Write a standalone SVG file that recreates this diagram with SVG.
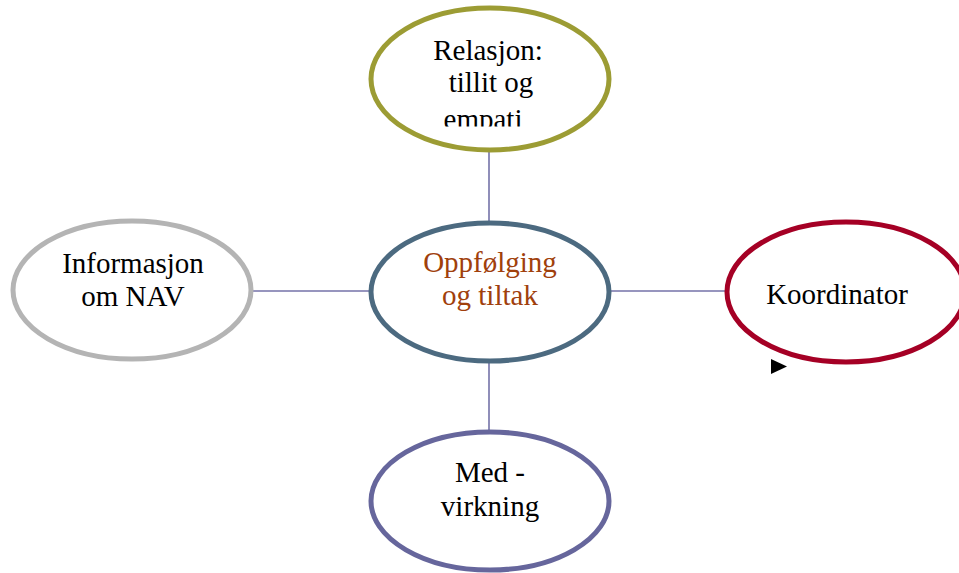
<svg xmlns="http://www.w3.org/2000/svg" width="959" height="573" viewBox="0 0 959 573">
<style>
.n{fill:#fff;stroke-width:5}
.t{font-family:"Liberation Serif","Times New Roman",serif;font-size:29px;fill:#000;text-anchor:middle}
.r{fill:#a0400c}
.c{stroke:#7472a8;stroke-width:1.6;fill:none}
</style>
<defs>
<clipPath id="topclip"><rect x="360" y="0" width="260" height="126.5"/></clipPath>
</defs>
<rect width="959" height="573" fill="#fff"/>
<g id="connectors">
<line class="c" x1="489" y1="152" x2="489" y2="222"/>
<line class="c" x1="489" y1="362" x2="489" y2="432"/>
<line class="c" x1="252" y1="291" x2="370" y2="291"/>
<line class="c" x1="610" y1="291" x2="726" y2="291"/>
</g>
<g id="relasjon">
<ellipse class="n" cx="490" cy="79" rx="119" ry="71" stroke="#9c9c34"/>
<g clip-path="url(#topclip)">
<text class="t" x="488" y="60">Relasjon:</text>
<text class="t" x="491" y="92">tillit og</text>
<text class="t" x="483" y="129">empati</text>
</g>
</g>
<g id="oppfolging">
<ellipse class="n" cx="490" cy="292" rx="119" ry="69" stroke="#4c6a80"/>
<text class="t r" x="490" y="272">Oppfølging</text>
<text class="t r" x="490" y="305">og tiltak</text>
</g>
<g id="informasjon">
<ellipse class="n" cx="132" cy="290" rx="119" ry="69" stroke="#b4b4b4"/>
<text class="t" x="133" y="273">Informasjon</text>
<text class="t" x="133" y="306">om NAV</text>
</g>
<g id="koordinator">
<ellipse class="n" cx="846" cy="292" rx="119" ry="70" stroke="#a50025"/>
<text class="t" x="837" y="304">Koordinator</text>
<polygon points="771,359 787,366.5 771,374" fill="#000"/>
</g>
<g id="medvirkning">
<ellipse class="n" cx="490" cy="501" rx="119" ry="69" stroke="#66669c"/>
<text class="t" x="490" y="482">Med -</text>
<text class="t" x="490" y="516">virkning</text>
</g>
</svg>
